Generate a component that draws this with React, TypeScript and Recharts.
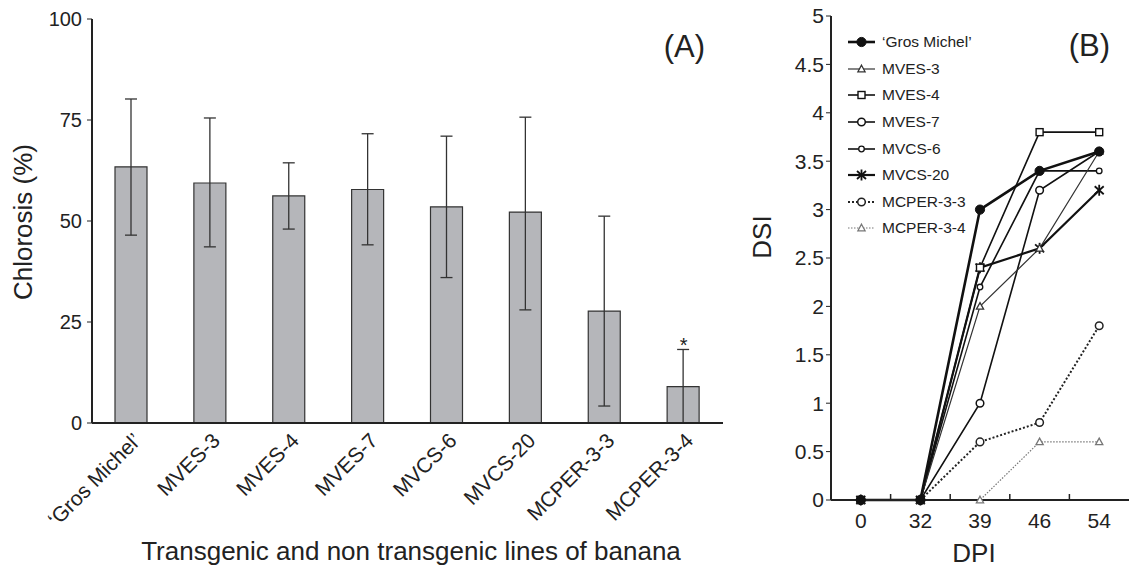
import React from 'react';
import {
  ComposedChart,
  Bar,
  ErrorBar,
  XAxis,
  YAxis,
  ReferenceDot,
  LineChart,
  Line,
  Legend,
} from 'recharts';

// ---------- Panel A data ----------
const lineNames = [
  '\u2018Gros Michel\u2019',
  'MVES-3',
  'MVES-4',
  'MVES-7',
  'MVCS-6',
  'MVCS-20',
  'MCPER-3-3',
  'MCPER-3-4',
];
const chlorosisMean = [63.4, 59.4, 56.2, 57.8, 53.5, 52.2, 27.7, 9.0];
const chlorosisHigh = [80.2, 75.5, 64.4, 71.6, 71.0, 75.7, 51.2, 18.2];
const chlorosisLow = [46.5, 43.6, 48.0, 44.1, 36.0, 28.0, 4.2, 0];
const significant = [false, false, false, false, false, false, false, true];
const chlorosisTicks = [0, 25, 50, 75, 100];

// ---------- Panel B data ----------
const dpiLabels = ['0', '32', '39', '46', '54'];
const dsiGrosMichel = [0, 0, 3.0, 3.4, 3.6];
const dsiMVES3 = [0, 0, 2.0, 2.6, 3.6];
const dsiMVES4 = [0, 0, 2.4, 3.8, 3.8];
const dsiMVES7 = [0, 0, 1.0, 3.2, 3.6];
const dsiMVCS6 = [0, 0, 2.2, 3.4, 3.4];
const dsiMVCS20 = [0, 0, 2.4, 2.6, 3.2];
const dsiMCPER33 = [0, 0, 0.6, 0.8, 1.8];
const dsiMCPER34 = [0, 0, 0, 0.6, 0.6];
const dsiTicks = [0, 0.5, 1, 1.5, 2, 2.5, 3, 3.5, 4, 4.5, 5];
// label ticks at category centres, short tick marks between categories
const dpiAxisTicks = [0, 0.5, 1, 1.5, 2, 2.5, 3, 3.5, 4];

const FONT = '"Liberation Sans", Arial, Helvetica, sans-serif';
const INK = '#222';

const barRows = lineNames.map((name, i) => ({
  name,
  mean: chlorosisMean[i],
  err: [chlorosisMean[i] - chlorosisLow[i], chlorosisHigh[i] - chlorosisMean[i]],
}));

type SeriesDef = {
  key: string;
  name: string;
  values: number[];
  stroke: string;
  width: number;
  dash?: string;
  marker: string;
};

const series: SeriesDef[] = [
  { key: 'gm', name: '\u2018Gros Michel\u2019', values: dsiGrosMichel, stroke: '#111', width: 2.6, marker: 'filled' },
  { key: 'm3', name: 'MVES-3', values: dsiMVES3, stroke: '#333', width: 1.2, marker: 'triangle' },
  { key: 'm4', name: 'MVES-4', values: dsiMVES4, stroke: '#111', width: 1.6, marker: 'square' },
  { key: 'm7', name: 'MVES-7', values: dsiMVES7, stroke: '#111', width: 1.6, marker: 'circle' },
  { key: 'c6', name: 'MVCS-6', values: dsiMVCS6, stroke: '#111', width: 1.6, marker: 'small' },
  { key: 'c20', name: 'MVCS-20', values: dsiMVCS20, stroke: '#111', width: 2.2, marker: 'star' },
  { key: 'p33', name: 'MCPER-3-3', values: dsiMCPER33, stroke: '#222', width: 2, dash: '2 2', marker: 'circle' },
  { key: 'p34', name: 'MCPER-3-4', values: dsiMCPER34, stroke: '#777', width: 1.2, dash: '1.5 1.5', marker: 'triangle' },
];

const dsiRows = dpiLabels.map((label, i) => {
  const row: Record<string, number | string> = { x: i, label };
  series.forEach((s) => {
    row[s.key] = s.values[i];
  });
  return row;
});

function Marker({ kind, cx, cy, stroke }: { kind: string; cx: number; cy: number; stroke: string }) {
  if (cx == null || cy == null) return <g />;
  switch (kind) {
    case 'filled':
      return <circle cx={cx} cy={cy} r={4.6} fill="#111" stroke="#111" strokeWidth={1} />;
    case 'circle':
      return <circle cx={cx} cy={cy} r={3.8} fill="#fff" stroke={stroke} strokeWidth={1.5} />;
    case 'small':
      return <circle cx={cx} cy={cy} r={2.8} fill="#fff" stroke={stroke} strokeWidth={1.3} />;
    case 'square':
      return <rect x={cx - 3.5} y={cy - 3.5} width={7} height={7} fill="#fff" stroke={stroke} strokeWidth={1.4} />;
    case 'triangle':
      return (
        <path
          d={`M${cx},${cy - 3.8} L${cx + 3.6},${cy + 2.8} L${cx - 3.6},${cy + 2.8} Z`}
          fill="#fff"
          stroke={stroke}
          strokeWidth={1.3}
        />
      );
    case 'star':
      return (
        <g stroke="#111" strokeWidth={1.8}>
          <line x1={cx} y1={cy - 5.5} x2={cx} y2={cy + 5.5} />
          <line x1={cx - 4.5} y1={cy - 4} x2={cx + 4.5} y2={cy + 4} />
          <line x1={cx - 4.5} y1={cy + 4} x2={cx + 4.5} y2={cy - 4} />
        </g>
      );
    default:
      return <g />;
  }
}

const RotTick = (p: any) => {
  const { x, y, payload } = p;
  const ax = x + 11;
  const ay = y + 19;
  return (
    <g transform={`translate(${ax},${ay})`}>
      <text
        x={0}
        y={0}
        transform="rotate(-45)"
        textAnchor="end"
        fontSize={21}
        fill={INK}
        fontFamily={FONT}
      >
        {payload.value}
      </text>
    </g>
  );
};

const DpiTick = (p: any) => {
  const { x, y, payload } = p;
  const v = payload.value as number;
  if (!Number.isInteger(v)) {
    return <line x1={x} y1={y} x2={x} y2={y - 6} stroke={INK} strokeWidth={1.5} />;
  }
  return (
    <text x={x} y={y + 13} dy="0.71em" textAnchor="middle" fontSize={21} fill={INK} fontFamily={FONT}>
      {dpiLabels[v]}
    </text>
  );
};

const LegendBox = () => (
  <div style={{ fontFamily: FONT, fontSize: 15.5, color: INK }}>
    {series.map((s) => (
      <div key={s.key} style={{ display: 'flex', alignItems: 'center', height: 26.6, whiteSpace: 'nowrap' }}>
        <svg width={28} height={14} style={{ display: 'block' }}>
          <line
            x1={0}
            y1={7}
            x2={27}
            y2={7}
            stroke={s.stroke}
            strokeWidth={s.width}
            strokeDasharray={s.dash}
          />
          <Marker kind={s.marker} cx={13.5} cy={7} stroke={s.stroke} />
        </svg>
        <span style={{ marginLeft: 6 }}>{s.name}</span>
      </div>
    ))}
  </div>
);

export default function App() {
  return (
    <div style={{ position: 'absolute', left: 0, top: 0, width: 1130, height: 570, background: '#fff', fontFamily: FONT }}>
      <div style={{ position: 'absolute', left: 0, top: 0 }}>
        <ComposedChart width={740} height={570} data={barRows} margin={{ top: 19, right: 17, bottom: 0, left: 0 }}>
          <XAxis
            dataKey="name"
            type="category"
            height={147}
            tickSize={0}
            tickMargin={0}
            tickLine={false}
            interval={0}
            axisLine={{ stroke: INK, strokeWidth: 2 }}
            tick={<RotTick />}
            label={() => (
              <text x={411} y={551} textAnchor="middle" dominantBaseline="central" fontSize={26} fill={INK} fontFamily={FONT}>
                Transgenic and non transgenic lines of banana
              </text>
            )}
          />
          <XAxis xAxisId="top" orientation="top" dataKey="name" height={0} tick={false} tickLine={false} axisLine={{ stroke: INK, strokeWidth: 2 }} />
          <YAxis
            domain={[0, 100]}
            ticks={chlorosisTicks}
            width={92}
            tickSize={5}
            tickMargin={5}
            tickLine={{ stroke: INK }}
            axisLine={{ stroke: INK, strokeWidth: 2 }}
            tick={{ fontSize: 20, fill: INK, fontFamily: FONT }}
            label={() => (
              <text x={23} y={222} transform="rotate(-90 23 222)" textAnchor="middle" dominantBaseline="central" fontSize={26} fill={INK} fontFamily={FONT}>
                Chlorosis (%)
              </text>
            )}
          />
          <YAxis yAxisId="right" orientation="right" domain={[0, 100]} width={0} tick={false} tickLine={false} axisLine={{ stroke: INK, strokeWidth: 2 }} />
          <Bar dataKey="mean" fill="#b5b6ba" stroke="#333" strokeWidth={1.2} barSize={32} isAnimationActive={false}>
            <ErrorBar dataKey="err" width={6} stroke="#333" strokeWidth={1.3} />
          </Bar>
          {lineNames.map((n, i) =>
            significant[i] ? (
              <ReferenceDot
                key={n}
                x={n}
                y={chlorosisHigh[i]}
                r={0}
                ifOverflow="visible"
                shape={(p: any) => (
                  <text x={p.cx} y={p.cy + 3} textAnchor="middle" fontSize={20} fill={INK} fontFamily={FONT}>
                    *
                  </text>
                )}
              />
            ) : null
          )}
          <text x={705} y={46} textAnchor="end" dominantBaseline="central" fontSize={31} fill={INK} fontFamily={FONT}>
            (A)
          </text>
        </ComposedChart>
      </div>
      <div style={{ position: 'absolute', left: 740, top: 0 }}>
        <LineChart width={390} height={570} data={dsiRows} margin={{ top: 16, right: 1, bottom: 0, left: 0 }}>
          <XAxis
            dataKey="x"
            type="number"
            domain={[-0.5, 4.5]}
            ticks={dpiAxisTicks}
            interval={0}
            height={70}
            tickLine={false}
            tickSize={0}
            tickMargin={0}
            axisLine={{ stroke: INK, strokeWidth: 2 }}
            tick={<DpiTick />}
            label={() => (
              <text x={234} y={553} textAnchor="middle" dominantBaseline="central" fontSize={26} fill={INK} fontFamily={FONT}>
                DPI
              </text>
            )}
          />
          <XAxis xAxisId="top" orientation="top" dataKey="x" type="number" domain={[-0.5, 4.5]} height={0} tick={false} tickLine={false} axisLine={{ stroke: INK, strokeWidth: 2 }} />
          <YAxis
            domain={[0, 5]}
            ticks={dsiTicks}
            width={91}
            tickSize={5}
            tickMargin={2}
            tickLine={{ stroke: INK }}
            axisLine={{ stroke: INK, strokeWidth: 2 }}
            tick={{ fontSize: 21, fill: INK, fontFamily: FONT }}
            label={() => (
              <text x={22} y={237} transform="rotate(-90 22 237)" textAnchor="middle" dominantBaseline="central" fontSize={26} fill={INK} fontFamily={FONT}>
                DSI
              </text>
            )}
          />
          {[...series].reverse().map((s) => (
            <Line
              key={s.key}
              dataKey={s.key}
              name={s.name}
              type="linear"
              stroke={s.stroke}
              strokeWidth={s.width}
              strokeDasharray={s.dash}
              isAnimationActive={false}
              activeDot={false}
              dot={(p: any) => <Marker key={`${s.key}-${p.index}`} kind={s.marker} cx={p.cx} cy={p.cy} stroke={s.stroke} />}
            />
          ))}
          <Legend
            layout="vertical"
            align="center"
            verticalAlign="middle"
            content={() => <LegendBox />}
            wrapperStyle={{ left: 108, top: 29, width: 'auto', height: 'auto' }}
          />
          <text x={370} y={45} textAnchor="end" dominantBaseline="central" fontSize={31} fill={INK} fontFamily={FONT}>
            (B)
          </text>
        </LineChart>
      </div>
    </div>
  );
}
